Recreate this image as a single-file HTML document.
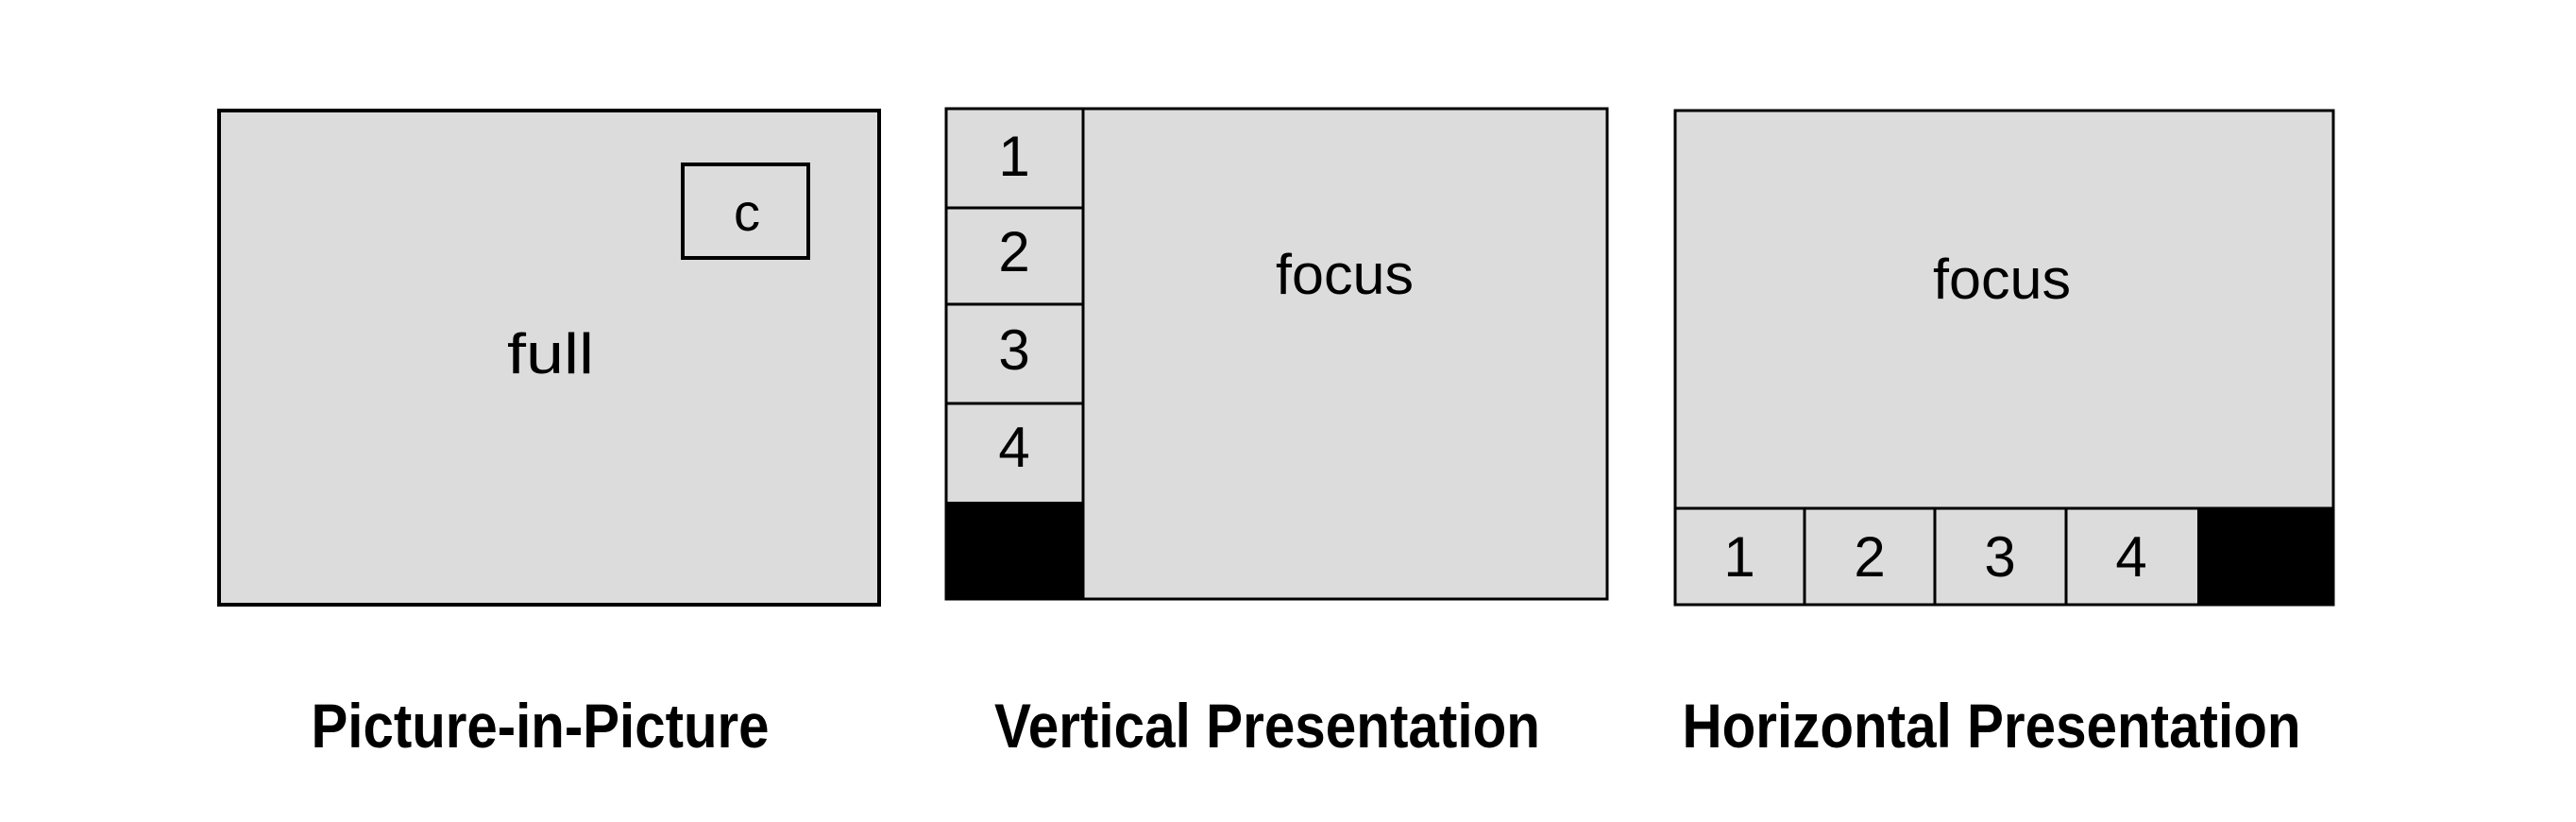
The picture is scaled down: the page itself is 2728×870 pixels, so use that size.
<!DOCTYPE html>
<html><head><meta charset="utf-8"><style>
html,body{margin:0;padding:0;background:#fff;}
svg{display:block;}
</style></head><body>
<svg width="2728" height="870" viewBox="0 0 2728 870" xmlns="http://www.w3.org/2000/svg">
<g font-family="'Liberation Sans Narrow','Liberation Sans',sans-serif" fill="#000">
<!-- Box 1 -->
<rect x="232" y="117" width="699" height="523" fill="#dcdcdc" stroke="#000" stroke-width="4"/>
<rect x="723" y="174" width="133" height="99" fill="#dcdcdc" stroke="#000" stroke-width="4"/>
<text x="791" y="244" font-size="56" text-anchor="middle">c</text>
<text x="583" y="395" font-size="60" text-anchor="middle" textLength="92" lengthAdjust="spacingAndGlyphs">full</text>

<!-- Box 2 -->
<rect x="1002" y="115" width="700" height="519" fill="#dcdcdc" stroke="#000" stroke-width="3"/>
<rect x="1002" y="531" width="145" height="103" fill="#000"/>
<line x1="1147" y1="115" x2="1147" y2="634" stroke="#000" stroke-width="3"/>
<line x1="1002" y1="220" x2="1147" y2="220" stroke="#000" stroke-width="3"/>
<line x1="1002" y1="322" x2="1147" y2="322" stroke="#000" stroke-width="3"/>
<line x1="1002" y1="427" x2="1147" y2="427" stroke="#000" stroke-width="3"/>
<g font-size="60" text-anchor="middle">
<text x="1074" y="186">1</text>
<text x="1074" y="287">2</text>
<text x="1074" y="391">3</text>
<text x="1074" y="494">4</text>
<text x="1424" y="311" textLength="146" lengthAdjust="spacingAndGlyphs">focus</text>
</g>

<!-- Box 3 -->
<rect x="1774" y="117" width="697" height="523" fill="#dcdcdc" stroke="#000" stroke-width="3"/>
<rect x="2327" y="538" width="144" height="102" fill="#000"/>
<line x1="1774" y1="538" x2="2471" y2="538" stroke="#000" stroke-width="3"/>
<line x1="1911" y1="538" x2="1911" y2="640" stroke="#000" stroke-width="3"/>
<line x1="2049" y1="538" x2="2049" y2="640" stroke="#000" stroke-width="3"/>
<line x1="2188" y1="538" x2="2188" y2="640" stroke="#000" stroke-width="3"/>
<g font-size="60" text-anchor="middle">
<text x="1842" y="610">1</text>
<text x="1980" y="610">2</text>
<text x="2118" y="610">3</text>
<text x="2257" y="610">4</text>
<text x="2120" y="316" textLength="146" lengthAdjust="spacingAndGlyphs">focus</text>
</g>

<!-- Labels -->
<g font-size="66" font-weight="bold" text-anchor="middle" font-family="'Liberation Sans',sans-serif">
<text x="572" y="791" textLength="485" lengthAdjust="spacingAndGlyphs">Picture-in-Picture</text>
<text x="1342" y="791" textLength="578" lengthAdjust="spacingAndGlyphs">Vertical Presentation</text>
<text x="2109" y="791" textLength="655" lengthAdjust="spacingAndGlyphs">Horizontal Presentation</text>
</g>
</g>
</svg>
</body></html>
